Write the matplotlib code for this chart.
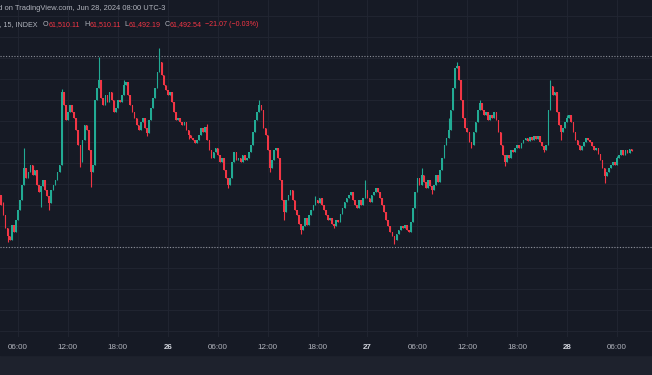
import matplotlib
matplotlib.use("Agg")
import matplotlib.pyplot as plt
import matplotlib.dates as mdates
from matplotlib.patches import Rectangle
import pandas as pd

# BTC / USD index, 15 minute candles
first_open = 61100
closes = [
    61050, 60950, 60850, 60720, 60640, 60600, 60750, 60680, 60800, 60900, 61000, 61150,
    61320, 61220, 61280, 61350, 61250, 61300, 61150, 61080, 61140, 61200, 61100, 61040,
    60970, 61100, 61150, 61200, 61280, 61350, 62080, 61950, 61800, 61880, 61950, 61880,
    61820, 61700, 61550, 61380, 61600, 61750, 61700, 61500, 61280, 61350, 62000, 62120,
    62200, 62020, 61950, 62050, 61980, 62080, 62000, 61880, 61920, 62000, 61980, 62050,
    62150, 62180, 62050, 61950, 61880, 61820, 61750, 61700, 61780, 61820, 61720, 61670,
    61800, 61920, 62020, 62120, 62280, 62380, 62250, 62150, 62100, 62050, 62080, 61980,
    61880, 61800, 61820, 61780, 61750, 61780, 61700, 61650, 61620, 61600, 61570, 61600,
    61650, 61720, 61680, 61730, 61600, 61500, 61420, 61480, 61520, 61450, 61380, 61420,
    61300, 61220, 61150, 61220, 61380, 61480, 61400, 61420, 61380, 61450, 61400, 61420,
    61480, 61550, 61680, 61800, 61880, 61950, 61900, 61720, 61650, 61500, 61320, 61400,
    61500, 61520, 61420, 61200, 61000, 60880, 61000, 61050, 61100, 61000, 60900, 60850,
    60760, 60700, 60740, 60820, 60750, 60850, 60900, 60950, 61000, 60970, 61020, 60950,
    60900, 60850, 60800, 60820, 60760, 60740, 60800, 60780, 60860, 60920, 60980, 61020,
    61050, 61080, 61000, 60950, 60920, 61000, 60950, 61020, 61100, 61020, 60980, 61050,
    61080, 61120, 61080, 61020, 60950, 60880, 60800, 60740, 60680, 60640, 60600, 60660,
    60700, 60740, 60720, 60750, 60700, 60680, 60780, 60920, 61080, 61220, 61150, 61250,
    61180, 61120, 61200, 61140, 61100, 61150, 61250, 61180, 61300, 61420, 61550, 61620,
    61700, 61900, 62120, 62320, 62340, 62200, 62000, 61820, 61720, 61680, 61580, 61550,
    61680, 61780, 61900, 61970, 61900, 61850, 61880, 61800, 61850, 61820, 61880, 61800,
    61680, 61550, 61450, 61380, 61450, 61420, 61500, 61480, 61520, 61550, 61520, 61570,
    61600, 61620, 61590, 61630, 61600, 61640, 61610, 61640, 61580, 61540, 61500, 61550,
    61900, 62140, 62050, 62080, 61880, 61750, 61680, 61720, 61780, 61820, 61850, 61780,
    61680, 61600, 61550, 61500, 61540, 61580, 61620, 61600, 61580, 61540, 61500, 61520,
    61460, 61400, 61320, 61240, 61280, 61320, 61350, 61380, 61350, 61420, 61450, 61500,
    61450, 61500, 61470, 61510.11, 61492.54,
]
# wicks that stick out visibly: candle index -> price
wick_highs = {2: 60980, 12: 61520, 30: 62110, 48: 62430, 60: 62200, 77: 62520,
              100: 61760, 125: 62000, 152: 61040, 176: 61200, 203: 61320, 216: 61820,
              220: 62380, 231: 62000, 265: 62200, 273: 61850, 297: 61440, 304: 61510.11}
wick_lows = {4: 60580, 20: 60930, 24: 60900, 39: 61330, 44: 61130, 71: 61640,
             91: 61610, 110: 61120, 130: 61280, 137: 60800, 145: 60660, 161: 60720,
             190: 60560, 208: 61060, 227: 61520, 243: 61340, 262: 61480, 270: 61600,
             291: 61170, 304: 61492.19}
levels = [62440, 60530]

header1 = "Published on TradingView.com, Jun 28, 2024 08:00 UTC-3"
symbol = "Bitcoin / U.S. Dollar, 15, INDEX"
ohlc_keys = ["O", "H", "L", "C"]
ohlc_vals = ["61,510.11", "61,510.11", "61,492.19", "61,492.54"]
change = "\u221221.07 (\u22120.03%)"

W, H = 652, 375
BG = "#161a25"
BAND = "#1e222d"
GRID = "#222633"
UP = "#22ab94"
DOWN = "#f23645"
TXT = "#b2b5be"
FONT = "Liberation Sans"
FS = 5.8
FSH = 5.4
FSL = 5.1

opens = [first_open] + closes[:-1]
highs = [wick_highs.get(i, max(o, c)) for i, (o, c) in enumerate(zip(opens, closes))]
lows = [wick_lows.get(i, min(o, c)) for i, (o, c) in enumerate(zip(opens, closes))]
times = pd.date_range("2024-06-25 03:45", periods=len(closes), freq="15min")
df = pd.DataFrame({"open": opens, "high": highs, "low": lows, "close": closes}, index=times)
x = mdates.date2num(df.index.to_pydatetime())
colors = [UP if c >= o else DOWN for o, c in zip(df.open, df.close)]

fig = plt.figure(figsize=(W / 100, H / 100), dpi=100)
fig.patch.set_facecolor(BAND)
fig.patches.append(Rectangle((0, 1 - 355 / H), 1, 355 / H, transform=fig.transFigure,
                             color=BG, zorder=-5))
ax = fig.add_axes([0, 1 - 337 / H, 1, 337 / H])
ax.set_facecolor(BG)

ax.vlines(x, df.low, df.high, colors=colors, lw=0.8, zorder=3)
ax.bar(x, df.close - df.open, bottom=df.open, width=0.8 / 96, color=colors,
       linewidth=0, zorder=4)
for lv in levels:
    ax.axhline(lv, color="#8c8f99", lw=0.8, ls=(0, (1, 1.5)), zorder=2)

ax.set_xlim(mdates.date2num(pd.Timestamp("2024-06-25 03:50:24")),
            mdates.date2num(pd.Timestamp("2024-06-28 10:12:00")))
ax.set_ylim(59630, 63000)

ticks = pd.date_range("2024-06-25 06:00", "2024-06-28 06:00", freq="6h")
labels = [str(t.day) if t.hour == 0 else t.strftime("%H:%M") for t in ticks]
ax.set_xticks(mdates.date2num(ticks.to_pydatetime()))
ax.set_xticklabels(labels, fontsize=FS, color=TXT, family=FONT)
for t, lab in zip(ticks, ax.get_xticklabels()):
    if t.hour == 0:
        lab.set_fontweight("bold")
        lab.set_color("#d1d4dc")
ax.set_yticks([62000 + 210 * k for k in range(-11, 5)])
ax.tick_params(axis="x", length=0, pad=5)
ax.tick_params(axis="y", length=0, labelleft=False)
ax.grid(True, color=GRID, lw=0.6, zorder=0)
for s in ax.spines.values():
    s.set_visible(False)

# header, cut at the left edge like the screenshot
fig.text(165 / W, 1 - 9 / H, header1, color=TXT, fontsize=FSH, family=FONT,
         ha="right", va="center")
fig.text(38 / W, 1 - 25 / H, symbol, color=TXT, fontsize=FSL, family=FONT,
         ha="right", va="center")
r = fig.canvas.get_renderer()
pos = 43
for k, v in zip(ohlc_keys, ohlc_vals):
    t = fig.text(pos / W, 1 - 25 / H, k, color=TXT, fontsize=FSL, family=FONT,
                 ha="left", va="center")
    pos += t.get_window_extent(renderer=r).width + 0.3
    t = fig.text(pos / W, 1 - 25 / H, v, color=DOWN, fontsize=FSL, family=FONT,
                 ha="left", va="center")
    pos += t.get_window_extent(renderer=r).width + 3.5
fig.text(pos / W, 1 - 25 / H, change, color=DOWN, fontsize=FSL, family=FONT,
         ha="left", va="center")

fig.savefig("out.png", dpi=100, facecolor=fig.get_facecolor())
